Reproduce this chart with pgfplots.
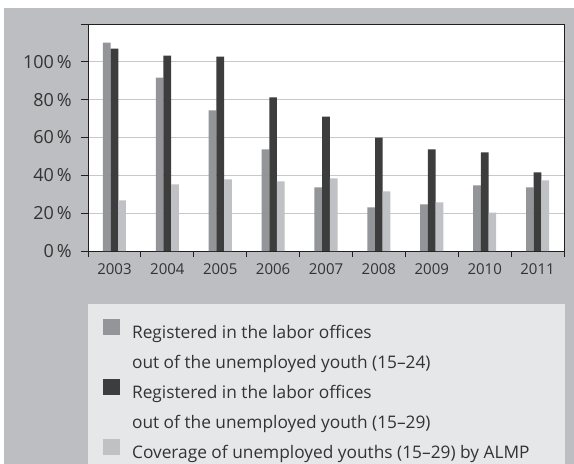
\documentclass[border=0pt]{standalone}
\usepackage{fontspec}
\setmainfont{Open Sans}
\usepackage{pgfplots}
\pgfplotsset{compat=1.18}
\definecolor{bgpanel}{HTML}{BDBEC1}
\definecolor{legbg}{HTML}{E6E7E8}
\definecolor{barA}{HTML}{939598}
\definecolor{barB}{HTML}{3D3D3D}
\definecolor{barC}{HTML}{C0C1C4}
\definecolor{gridc}{HTML}{C8C8C8}
\definecolor{axc}{HTML}{231F20}
\definecolor{txt}{HTML}{333333}
\begin{document}
\begin{tikzpicture}
\useasboundingbox (0,0) rectangle (574bp,-464bp);
\fill[white] (0,0) rectangle (574bp,-464bp);
\fill[bgpanel] (4bp,-8bp) rectangle (574bp,-464bp);
\fill[legbg] (88bp,-304bp) rectangle (565bp,-470bp);
\begin{axis}[
  at={(88bp,-251bp)}, anchor=south west,
  scale only axis, width=476bp, height=227bp,
  axis background/.style={fill=white},
  axis line style={axc, line width=1bp},
  bar width=7.7bp,
  xmin=-0.5, xmax=8.5, ymin=0, ymax=120,
  xtick={0,...,8},
  xticklabels={2003,2004,2005,2006,2007,2008,2009,2010,2011},
  minor xtick={-0.5,0.5,...,8.5},
  major x tick style={draw=none},
  minor x tick style={axc, line width=1bp},
  minor tick length=6bp,
  xtick pos=bottom, ytick pos=left,
  ytick={0,20,...,120},
  yticklabels={0\,\%,20\,\%,40\,\%,60\,\%,80\,\%,100\,\%,{}},
  ytick style={axc, line width=1bp},
  major tick length=7bp,
  tick align=outside,
  ymajorgrids, major grid style={gridc, line width=1bp},
  xticklabel style={font=\fontsize{15bp}{18bp}\selectfont, text=txt, inner sep=0pt, yshift=-5bp},
  yticklabel style={font=\fontsize{18bp}{21bp}\selectfont, text=txt, inner sep=0pt, xshift=-9bp},
  legend style={at={(axis description cs:0.0315,-0.295)}, anchor=north west,
    draw=none, fill=none, inner sep=0pt, row sep=0pt, column sep=13bp,
    font=\fontsize{17.3bp}{20bp}\selectfont, text=txt,
    nodes={inner sep=0pt, text height=20bp, text depth=10bp},
    cells={anchor=base west}},
  legend cell align=left,
]
\addplot[ybar, bar shift=-7.7bp, fill=barA, draw=none, forget plot] coordinates {(0,110.2) (1,91.7) (2,74.3) (3,53.7) (4,33.6) (5,23.1) (6,24.7) (7,34.7) (8,33.6)};
\addplot[ybar, bar shift=0bp, fill=barB, draw=none, forget plot] coordinates {(0,107.0) (1,103.3) (2,102.8) (3,81.2) (4,71.1) (5,60.0) (6,53.7) (7,52.1) (8,41.6)};
\addplot[ybar, bar shift=7.7bp, fill=barC, draw=none, forget plot] coordinates {(0,26.8) (1,35.2) (2,37.9) (3,36.8) (4,38.4) (5,31.5) (6,25.7) (7,20.3) (8,37.3)};
\addlegendimage{legend image code/.code={\fill[barA] (0bp,-1.5bp) rectangle (15.5bp,13.5bp);}}
\addlegendentry{Registered in the labor offices}
\addlegendimage{empty legend}
\addlegendentry{out of the unemployed youth (15--24)}
\addlegendimage{legend image code/.code={\fill[barB] (0bp,-1.5bp) rectangle (15.5bp,13.5bp);}}
\addlegendentry{Registered in the labor offices}
\addlegendimage{empty legend}
\addlegendentry{out of the unemployed youth (15--29)}
\addlegendimage{legend image code/.code={\fill[barC] (0bp,-1.5bp) rectangle (15.5bp,13.5bp);}}
\addlegendentry{Coverage of unemployed youths (15--29) by ALMP}
\end{axis}
\end{tikzpicture}
\end{document}
